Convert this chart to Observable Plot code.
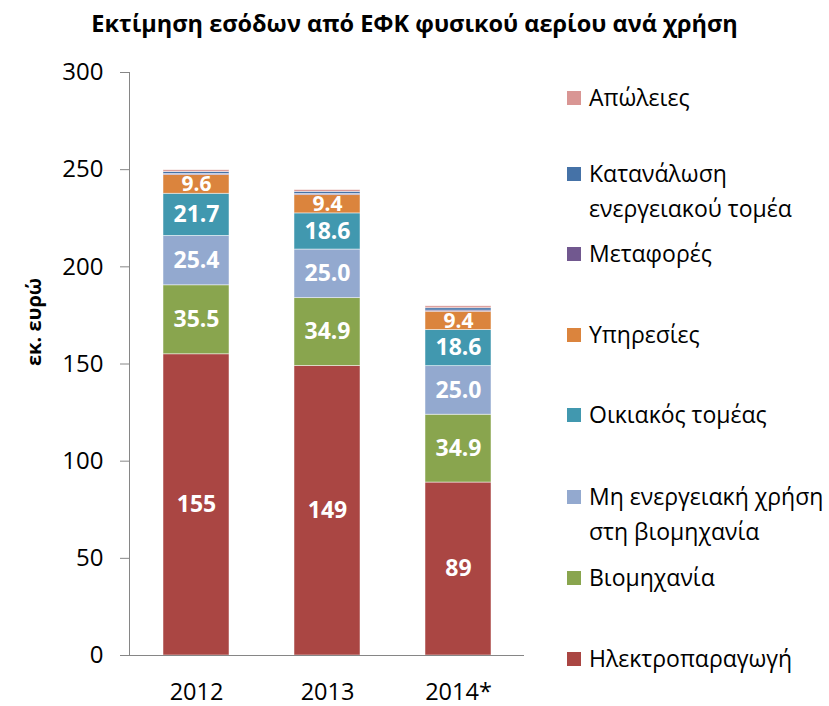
<!DOCTYPE html>
<html><head><meta charset="utf-8">
<script src="https://cdn.jsdelivr.net/npm/d3@7"></script>
<script src="https://cdn.jsdelivr.net/npm/@observablehq/plot@0.6"></script>
<style>
body{margin:0;background:#fff;font-family:"Open Sans",Lato,sans-serif;overflow:hidden;}
#wrap{position:relative;width:829px;height:706px;}
#title{position:absolute;left:0;top:7px;width:829px;text-align:center;font-weight:bold;font-size:23.5px;color:#000;}
#chart{position:absolute;left:0;top:48px;}
#ylab{position:absolute;left:33px;top:322px;transform:translate(-50%,-50%) rotate(-90deg);font-weight:bold;font-size:20px;white-space:nowrap;}
.li{position:absolute;left:567px;font-size:23px;line-height:35px;color:#000;}
.li .sw{position:absolute;left:0;top:11px;width:14px;height:14px;}
.li .tx{position:absolute;left:22px;top:0;white-space:nowrap;}
</style></head>
<body><div id="wrap">
<div id="title">Εκτίμηση εσόδων από ΕΦΚ φυσικού αερίου ανά χρήση</div>
<div id="chart"></div>
<div id="ylab">εκ. ευρώ</div>
<div id="legend"></div>
</div>
<script>
const years = ["2012","2013","2014*"];
const categories = ["Ηλεκτροπαραγωγή","Βιομηχανία","Μη ενεργειακή χρήση στη βιομηχανία","Οικιακός τομέας","Υπηρεσίες","Μεταφορές","Κατανάλωση ενεργειακού τομέα","Απώλειες"];
const legendLines = [["Ηλεκτροπαραγωγή"],["Βιομηχανία"],["Μη ενεργειακή χρήση","στη βιομηχανία"],["Οικιακός τομέας"],["Υπηρεσίες"],["Μεταφορές"],["Κατανάλωση","ενεργειακού τομέα"],["Απώλειες"]];
const colors = ["#AA4643","#89A54E","#93A9CF","#4198AF","#DB843D","#71588F","#4572A7","#D99694"];
const v2012 = [155, 35.5, 25.4, 21.7, 9.6, 0.6, 1.0, 0.9];
const v2013 = [149, 34.9, 25.0, 18.6, 9.4, 0.6, 1.1, 0.9];
const v2014 = [89, 34.9, 25.0, 18.6, 9.4, 0.6, 1.2, 1.0];
const labelled = [true,true,true,true,true,false,false,false];
const yTicks = [0,50,100,150,200,250,300];

const series = [v2012, v2013, v2014];
const data = [];
years.forEach((y,i)=>categories.forEach((c,j)=>data.push({year:y,cat:c,value:series[i][j],show:labelled[j],order:j})));

const fmt = d => d.value >= 50 ? d3.format(".0f")(d.value) : d3.format(".1f")(d.value);

const plot = Plot.plot({
  width: 829, height: 658,
  marginLeft: 129, marginRight: 305, marginTop: 24, marginBottom: 51,
  style:{fontFamily:"'Open Sans', Lato, sans-serif", fontSize:"23px", color:"#000", background:"transparent"},
  x:{domain:years, paddingInner:0.5, paddingOuter:0.25, label:null},
  y:{domain:[0,300], ticks:yTicks, label:null},
  color:{domain:categories, range:colors},
  marks:[
    Plot.barY(data, Plot.stackY({order:"order", x:"year", y:"value", fill:"cat", stroke:"#fff", strokeWidth:0.8, strokeOpacity:0.6})),
    Plot.text(data, Plot.stackY({order:"order", x:"year", y:"value", text: d=> d.show ? fmt(d) : "", fill:"#fff", fontWeight:"bold", fontSize: d => d.value < 15 ? 21 : 23})),
    Plot.axisY({ticks:yTicks, tickSize:9, tickPadding:17, stroke:"#868686", fontSize:24}),
    Plot.axisX({tickSize:0, tickPadding:28, fontSize:23.5}),
    Plot.ruleY([0], {stroke:"#868686"})
  ]
});
document.getElementById("chart").appendChild(plot);

// y axis line
const svg = d3.select(plot);
svg.append("line").attr("x1",129.5).attr("x2",129.5).attr("y1",24).attr("y2",607).attr("stroke","#868686");
svg.append("line").attr("x1",120).attr("x2",129).attr("y1",607.5).attr("y2",607.5).attr("stroke","#868686");

const legendY = [658,577,496,414,334,253,173,97];
const lg = document.getElementById("legend");
legendLines.forEach((lines,i)=>{
  const d = document.createElement("div");
  d.className="li";
  d.style.top = (legendY[i]-17)+"px";
  d.innerHTML = `<div class="sw" style="background:${colors[i]}"></div><div class="tx">${lines.join("<br>")}</div>`;
  lg.appendChild(d);
});
</script>
</body></html>
